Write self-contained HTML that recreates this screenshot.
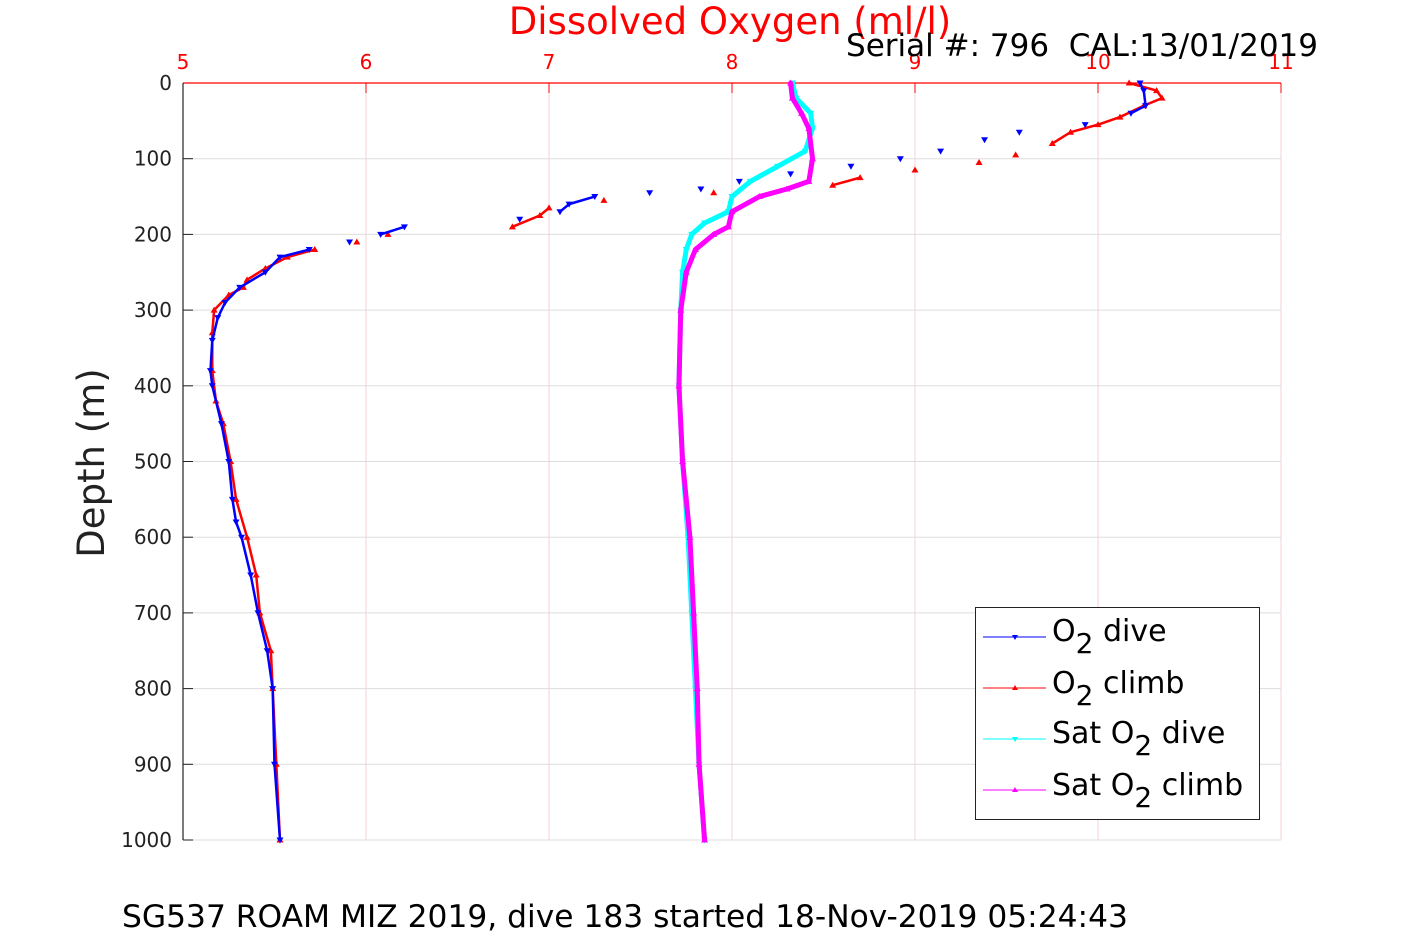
<!DOCTYPE html>
<html><head><meta charset="utf-8"><style>
body{margin:0;background:#fff;width:1417px;height:945px;overflow:hidden}
svg text{font-family:"DejaVu Sans","Liberation Sans",sans-serif}
</style></head><body>
<svg id="c" width="1417" height="945">
<g id="grid"></g><g id="axes"></g><g id="series"></g>
<text x="730" y="34" font-size="37" fill="#ff0000" text-anchor="middle">Dissolved Oxygen (ml/l)</text>
<text x="1318" y="56" font-size="31" fill="#000" text-anchor="end" xml:space="preserve">Serial #: 796  CAL:13/01/2019</text>
<text transform="translate(104,463) rotate(-90)" font-size="37" fill="#222" text-anchor="middle">Depth (m)</text>
<text x="122" y="927" font-size="31.3" fill="#000">SG537 ROAM MIZ 2019, dive 183 started 18-Nov-2019 05:24:43</text>
<g>
<rect x="975.5" y="607.5" width="284" height="212" fill="#fff" stroke="#222" stroke-width="1"/>
<g><line x1="983" x2="1046" y1="637" y2="637" stroke="#0000ff"/><path d="M1012,635 h6 l-3,5z" fill="#0000ff"/><text x="1052" y="641" font-size="30">O<tspan dy="12" font-size="28">2</tspan><tspan dy="-12"> dive</tspan></text></g>
<g><line x1="983" x2="1046" y1="688" y2="688" stroke="#ff0000"/><path d="M1012,690 h6 l-3,-5z" fill="#ff0000"/><text x="1052" y="693" font-size="30">O<tspan dy="12" font-size="28">2</tspan><tspan dy="-12"> climb</tspan></text></g>
<g><line x1="983" x2="1046" y1="739" y2="739" stroke="#00ffff"/><path d="M1012,737 h6 l-3,5z" fill="#00ffff"/><text x="1052" y="743" font-size="30">Sat O<tspan dy="12" font-size="28">2</tspan><tspan dy="-12"> dive</tspan></text></g>
<g><line x1="983" x2="1046" y1="790" y2="790" stroke="#ff00ff"/><path d="M1012,792 h6 l-3,-5z" fill="#ff00ff"/><text x="1052" y="795" font-size="30">Sat O<tspan dy="12" font-size="28">2</tspan><tspan dy="-12"> climb</tspan></text></g>
</g>
</svg>
<script>
const xTicks=[5,6,7,8,9,10,11];
const yTicks=[0,100,200,300,400,500,600,700,800,900,1000];
const o2DiveDepth=[0,10,30,40,55,65,75,90,100,110,120,130,140,145,150,160,170,180,190,200,210,220,230,250,270,290,310,340,380,400,450,500,550,580,600,650,700,750,800,900,1000];
const o2DiveVal=[10.23,10.25,10.26,10.18,9.93,9.57,9.38,9.14,8.92,8.65,8.32,8.04,7.83,7.55,7.25,7.11,7.06,6.84,6.21,6.08,5.91,5.69,5.53,5.45,5.31,5.23,5.19,5.16,5.15,5.16,5.21,5.25,5.27,5.29,5.32,5.37,5.41,5.46,5.49,5.50,5.53];
const o2ClimbDepth=[0,10,20,30,45,55,65,80,95,105,115,125,135,145,155,165,175,190,200,210,220,230,245,260,270,280,300,330,380,420,450,500,550,600,650,700,750,800,900,1000];
const o2ClimbVal=[10.17,10.32,10.35,10.25,10.12,10.0,9.85,9.75,9.55,9.35,9.0,8.7,8.55,7.9,7.3,7.0,6.95,6.8,6.12,5.95,5.72,5.57,5.45,5.35,5.33,5.25,5.17,5.16,5.16,5.18,5.22,5.26,5.29,5.35,5.40,5.42,5.48,5.49,5.51,5.53];
const satDiveDepth=[0,20,40,60,90,110,130,150,170,185,200,220,250,300,400,500,600,700,800,900,1000];
const satDiveVal=[8.33,8.35,8.43,8.44,8.4,8.25,8.1,8.0,7.98,7.85,7.78,7.75,7.73,7.72,7.71,7.73,7.76,7.78,7.8,7.82,7.85];
const satClimbDepth=[0,20,40,60,100,130,140,150,170,190,200,220,250,300,400,500,600,700,800,900,1000];
const satClimbVal=[8.32,8.33,8.38,8.42,8.44,8.42,8.3,8.15,8.0,7.98,7.9,7.8,7.75,7.72,7.71,7.73,7.77,7.79,7.81,7.82,7.85];
const X0=183,X1=1281,Y0=83,Y1=840;
const sx=v=>X0+(v-5)/6*(X1-X0), sy=d=>Y0+d/1000*(Y1-Y0);
const NS='http://www.w3.org/2000/svg';
function mk(t,a,p){const e=document.createElementNS(NS,t);for(const k in a)e.setAttribute(k,a[k]);p.appendChild(e);return e;}
const grid=document.getElementById('grid'),axes=document.getElementById('axes'),ser=document.getElementById('series');
xTicks.forEach(v=>{const x=sx(v);
 const g=mk('line',{x1:x,x2:x,y1:Y0,y2:Y1,stroke:'#f7d0d0','stroke-width':1},grid);
 
 
 const tk=mk('line',{x1:x,x2:x,y1:Y0,y2:Y0+10,stroke:'#ff0000'},axes);
 
 
 const t=mk('text',{x:x,y:Y0-14,'font-size':20,fill:'#ff0000','text-anchor':'middle'},axes);t.textContent=v;
 
 });
yTicks.forEach(d=>{const y=sy(d);
 const g=mk('line',{x1:X0,x2:X1,y1:y,y2:y,stroke:'#dedede','stroke-width':1},grid);
 
 
 const tk=mk('line',{x1:X0,x2:X0+10,y1:y,y2:y,stroke:'#222'},axes);
 
 
 const t=mk('text',{x:172,y:y+7,'font-size':20,fill:'#222','text-anchor':'end'},axes);t.textContent=d;
 
 });
const ax=mk('line',{x1:X0,x2:X1,y1:Y0,y2:Y0,stroke:'#ff0000','stroke-width':1.2},axes);


const ay=mk('line',{x1:X0,x2:X0,y1:Y0,y2:Y1,stroke:'#222','stroke-width':1.2},axes);


function series(dep,val,col,w,down,name,gapPx){
 const g=mk('g',{},ser);
 
 
 for(let i=1;i<dep.length;i++){
  const xa=sx(val[i-1]),ya=sy(dep[i-1]),xb=sx(val[i]),yb=sy(dep[i]);
  if(Math.abs(xb-xa)>gapPx) continue;
  const s=mk('line',{x1:xa,y1:ya,x2:xb,y2:yb,stroke:col,'stroke-width':w,'stroke-linecap':'round'},g);
  
  
 }
 dep.forEach((d,i)=>{const x=sx(val[i]),y=sy(d);
  const p=mk('path',{d:down?`M${x-3.5},${y-2.5}h7l-3.5,6z`:`M${x-3.5},${y+2.5}h7l-3.5,-6z`,fill:col},g);
  
  });
}
series(satDiveDepth,satDiveVal,'#00ffff',5,true,'sat-o2-dive-series',1000);
series(satClimbDepth,satClimbVal,'#ff00ff',5,false,'sat-o2-climb-series',1000);
series(o2ClimbDepth,o2ClimbVal,'#ff0000',2.5,false,'o2-climb-series',30);
series(o2DiveDepth,o2DiveVal,'#0000ff',2.5,true,'o2-dive-series',30);
</script>
</body></html>
